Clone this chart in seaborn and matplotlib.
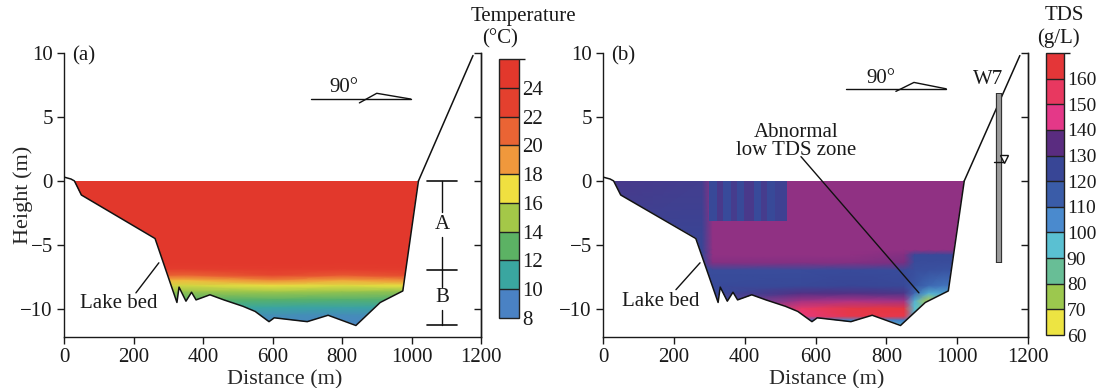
import numpy as np
import matplotlib
matplotlib.use("Agg")
import matplotlib.pyplot as plt
import matplotlib.cm as cm
from matplotlib.colors import LinearSegmentedColormap, ListedColormap, BoundaryNorm, Normalize
from matplotlib.patches import Polygon
import seaborn as sns

# lake bed profile (distance m, height m)
bed_x = [0, 20, 30, 50, 262, 325, 331, 351, 367, 380, 420, 460, 515, 550, 590, 605, 700, 760, 840, 910, 975, 1020]
bed_z = [0.3, 0.15, 0, -1.1, -4.5, -9.5, -8.3, -9.4, -8.7, -9.3, -8.9, -9.3, -9.8, -10.2, -11.0, -10.7, -11.0, -10.5, -11.3, -9.5, -8.6, 0]
bank_x = [1020, 1177]
bank_z = [0, 9.8]

# (a) temperature section, deg C
temp_x = [0, 350, 600, 800, 1040]
temp_z = [0, -6.4, -6.9, -7.4, -7.8, -8.2, -8.7, -9.3, -9.9, -10.5, -11.5]
temp_val = [
    [25.5, 25.5, 25.5, 25.5, 25.5],
    [25.0, 25.0, 25.2, 25.0, 25.0],
    [24.0, 23.5, 24.2, 24.0, 24.2],
    [21.5, 21.0, 22.5, 21.5, 22.5],
    [18.5, 18.0, 19.5, 18.5, 19.5],
    [16.5, 16.2, 16.8, 16.5, 16.8],
    [14.5, 14.5, 14.8, 14.6, 14.2],
    [13.0, 12.8, 12.8, 12.6, 12.5],
    [11.8, 11.3, 11.0, 10.8, 11.0],
    [10.8, 10.3, 9.8, 9.6, 9.8],
    [10.0, 9.3, 8.6, 8.4, 8.6],
]
temp_levels = [8, 10, 12, 14, 16, 18, 20, 22, 24, 26]
temp_colors = ["#4a82c4", "#3aa6a0", "#5cb264", "#a4c848", "#f0e040",
               "#f0983c", "#ea6434", "#e4402e", "#e2382c"]

# (b) TDS section, g/L
tds_x = [0, 280, 310, 560, 700, 850, 880, 920, 960, 1040]
tds_z = [0, -5.4, -5.8, -6.4, -7.0, -8.2, -8.8, -9.4, -10.0, -10.6, -10.9, -11.5]
tds_val = [
    [130, 128, 139, 139, 139, 139, 139, 139, 139, 139],
    [125, 125, 139, 139, 139, 139, 139, 139, 139, 139],
    [124, 124, 139, 139, 139, 138, 123, 123, 123, 123],
    [123, 123, 138, 138, 138, 137, 122, 122, 122, 122],
    [122, 122, 122, 122, 123, 122, 121, 120, 119, 119],
    [122, 122, 123, 124, 125, 124, 118, 112, 110, 110],
    [122, 122, 123, 133, 133, 131, 112, 98, 100, 100],
    [121, 121, 122, 140, 141, 140, 98, 72, 90, 92],
    [120, 120, 121, 152, 161, 163, 95, 82, 95, 95],
    [118, 118, 120, 148, 160, 160, 100, 95, 100, 100],
    [114, 114, 116, 110, 105, 108, 100, 100, 100, 100],
    [100, 100, 100, 95, 95, 95, 95, 95, 95, 95],
]
stripe_x = [300, 322, 338, 360, 378, 398, 425, 445, 462, 485, 520]
stripe_z = [-3.1, 0]
stripe_val = [[124, 130, 123, 129, 124, 130, 123, 129, 124, 127]]
tds_levels = [60, 70, 80, 90, 100, 110, 120, 130, 140, 150, 160, 170]
tds_colors = ["#ede442", "#9cc84e", "#68be96", "#5ac0d2", "#4a8ace", "#3a5ca8",
              "#384696", "#5a2c80", "#e43888", "#e83860", "#e43638"]

sns.set_theme(style="ticks")
plt.rcParams['font.family'] = ['Liberation Serif', 'DejaVu Serif']
plt.rcParams['text.color'] = '#1a1a1a'
plt.rcParams['axes.edgecolor'] = '#1a1a1a'
plt.rcParams['xtick.color'] = '#1a1a1a'
plt.rcParams['ytick.color'] = '#1a1a1a'
plt.rcParams['axes.linewidth'] = 1.0

W, H = 1109, 388
fig = plt.figure(figsize=(W / 100, H / 100), dpi=100)


def smooth_cmap(levels, colors):
    lo, hi = levels[0], levels[-1]
    pts = [(0.0, colors[0])]
    for i, c in enumerate(colors):
        pts.append((((levels[i] + levels[i + 1]) / 2 - lo) / (hi - lo), c))
    pts.append((1.0, colors[-1]))
    return LinearSegmentedColormap.from_list("sec", pts)


def make_panel(left_px, right_px):
    ax = fig.add_axes([left_px / W, (H - 337) / H, (right_px - left_px) / W, 284 / H])
    ax.set_xlim(0, 1200)
    ax.set_ylim(-12.2, 10)
    ax.set_xticks(range(0, 1201, 200))
    ax.set_yticks([-10, -5, 0, 5, 10])
    sns.despine(ax=ax, top=True, right=False)
    ax.tick_params(direction='out', length=5, width=1, labelsize=15, pad=3)
    sec = ax.secondary_yaxis('right')
    sec.set_yticks([-10, -5, 0, 5, 10])
    sec.tick_params(direction='in', length=5, width=1, labelright=False)
    ax.set_xlabel("Distance (m)", fontsize=16)
    ax.xaxis.set_label_coords(0.53, -0.118)
    ax.patch.set_alpha(0)
    return ax


def lake_clip(ax):
    pts = list(zip(bed_x[2:], bed_z[2:]))
    return Polygon(pts, closed=True, transform=ax.transData)


def draw_bed(ax):
    ax.plot(bed_x, bed_z, color='#111111', lw=1.1, zorder=5)
    ax.plot(bank_x, bank_z, color='#111111', lw=1.1, zorder=5)


def colorbar(cax, levels, colors, size):
    sm = cm.ScalarMappable(norm=BoundaryNorm(levels, len(colors)), cmap=ListedColormap(colors))
    cb = fig.colorbar(sm, cax=cax, drawedges=True, ticks=levels[:-1])
    cb.outline.set_edgecolor('#222222')
    cb.outline.set_linewidth(1.0)
    cb.dividers.set_color('#222222')
    cb.dividers.set_linewidth(1.0)
    cax.tick_params(length=0, labelsize=size, pad=2)
    return cb


# ---------------- (a) temperature ----------------
ax1 = make_panel(64, 481)
mesh = ax1.pcolormesh(temp_x, temp_z, np.array(temp_val), shading='gouraud',
                      cmap=smooth_cmap(temp_levels, temp_colors),
                      norm=Normalize(temp_levels[0], temp_levels[-1]), zorder=2)
mesh.set_clip_path(lake_clip(ax1))
draw_bed(ax1)
ax1.set_ylabel("Height (m)", fontsize=16)
ax1.yaxis.set_label_coords(-0.075, 0.5)
ax1.text(23, 9.75, "(a)", fontsize=15, va='center', ha='left')
ax1.text(806, 7.3, "90°", fontsize=15, ha='center', va='center')
ax1.plot([710, 998], [6.4, 6.4], color='#111111', lw=1)
ax1.plot([850, 900, 998], [6.1, 6.85, 6.4], color='#111111', lw=1)
ax1.text(158, -9.6, "Lake bed", fontsize=15, ha='center', va='center')
ax1.plot([207, 273], [-8.75, -6.4], color='#111111', lw=1)
# A / B layers
for yb in [0, -7.0, -11.3]:
    ax1.plot([1045, 1131], [yb, yb], color='#111111', lw=1.2)
for seg in [(0, -2.4), (-4.4, -8.3), (-10.1, -11.3)]:
    ax1.plot([1088, 1088], seg, color='#111111', lw=1)
ax1.text(1088, -3.4, "A", fontsize=15, ha='center', va='center')
ax1.text(1088, -9.1, "B", fontsize=15, ha='center', va='center')

cax1 = fig.add_axes([499 / W, (H - 318) / H, 20 / W, 259 / H])
colorbar(cax1, temp_levels, temp_colors, 15)
fig.text(523 / W, 1 - 17 / H, "Temperature", fontsize=15, ha='center', va='center')
fig.text(500 / W, 1 - 39 / H, "(°C)", fontsize=15, ha='center', va='center')

# ---------------- (b) TDS ----------------
ax2 = make_panel(603, 1028)
ax2.xaxis.set_label_coords(0.527, -0.118)
tds_cmap = smooth_cmap(tds_levels, tds_colors)
tds_norm = Normalize(tds_levels[0], tds_levels[-1])
mesh = ax2.pcolormesh(tds_x, tds_z, np.array(tds_val), shading='gouraud',
                      cmap=tds_cmap, norm=tds_norm, zorder=2)
mesh.set_clip_path(lake_clip(ax2))
strip = ax2.pcolormesh(stripe_x, stripe_z, np.array(stripe_val), shading='flat',
                       cmap=tds_cmap, norm=tds_norm, zorder=3)
strip.set_clip_path(lake_clip(ax2))
draw_bed(ax2)
ax2.text(23, 9.75, "(b)", fontsize=15, va='center', ha='left')
ax2.text(785, 8.0, "90°", fontsize=15, ha='center', va='center')
ax2.plot([686, 969], [7.2, 7.2], color='#111111', lw=1)
ax2.plot([827, 878, 969], [7.0, 7.7, 7.2], color='#111111', lw=1)
ax2.text(164, -9.45, "Lake bed", fontsize=15, ha='center', va='center')
ax2.plot([206, 274], [-8.5, -6.4], color='#111111', lw=1)
ax2.text(546, 3.1, "Abnormal\nlow TDS zone", fontsize=15, ha='center', va='center',
         linespacing=0.95)
ax2.plot([559, 892], [1.9, -8.75], color='#111111', lw=1)
# well W7
ax2.plot([1118, 1118], [6.9, -6.4], color='#333333', lw=4.5, solid_capstyle='butt', zorder=6)
ax2.plot([1118, 1118], [6.8, -6.3], color='#9a9a9a', lw=2.8, solid_capstyle='butt', zorder=7)
ax2.text(1088, 7.9, "W7", fontsize=15, ha='center', va='center')
ax2.plot([1105, 1130], [1.45, 1.45], color='#111111', lw=1, zorder=8)
ax2.plot([1132], [1.75], marker='v', ms=6, mfc='white', mec='#111111', mew=1, zorder=8)

cax2 = fig.add_axes([1046 / W, (H - 335) / H, 18 / W, 282 / H])
colorbar(cax2, tds_levels, tds_colors, 14)
fig.text(1064 / W, 1 - 16 / H, "TDS", fontsize=15, ha='center', va='center')
fig.text(1058 / W, 1 - 38 / H, "(g/L)", fontsize=15, ha='center', va='center')

fig.savefig("out.png", dpi=100)
